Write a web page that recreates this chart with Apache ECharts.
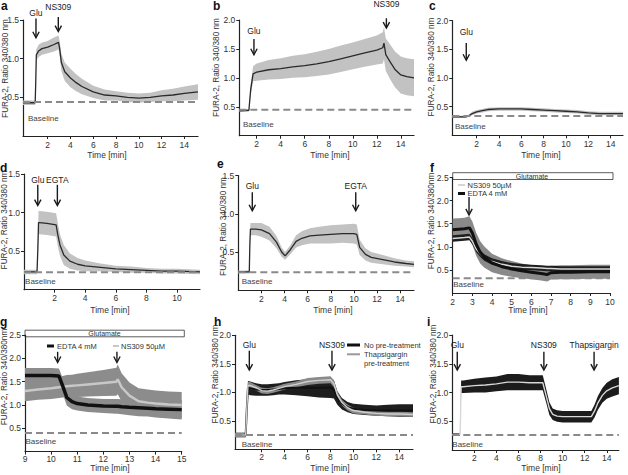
<!DOCTYPE html>
<html><head><meta charset="utf-8">
<script src="https://cdn.jsdelivr.net/npm/echarts@6/dist/echarts.min.js"></script>
<style>html,body{margin:0;padding:0;background:#fff}#c{width:628px;height:475px}</style>
</head><body><div id="c"></div>
<script>
// ---------------- DATA ----------------
// a
const aT    = [-0.17, 0.9, 0.95, 1.0, 1.2, 1.5, 2.0, 2.5, 2.95, 3.05, 3.2, 3.5, 4.0, 4.5, 5.0, 6.0, 7.0, 8.0, 9.0, 10.0, 11.0, 12.0, 13.0, 14.0, 15.2];
const aMean = [0.43, 0.43, 0.7, 1.05, 1.1, 1.13, 1.15, 1.18, 1.21, 1.13, 0.95, 0.83, 0.75, 0.69, 0.64, 0.57, 0.53, 0.52, 0.5, 0.49, 0.5, 0.52, 0.53, 0.55, 0.57];
const aErr  = [0.03, 0.03, 0.03, 0.07, 0.08, 0.08, 0.08, 0.09, 0.09, 0.1, 0.11, 0.12, 0.12, 0.11, 0.1, 0.08, 0.07, 0.06, 0.06, 0.06, 0.06, 0.07, 0.08, 0.09, 0.1];
// b
const bT    = [0.55, 1.35, 1.5, 1.7, 2.0, 3, 4, 5, 6, 7, 8, 9, 10, 11, 12, 12.5, 12.6, 12.75, 13.1, 13.5, 14, 14.5, 15.1];
const bMean = [0.43, 0.44, 0.8, 1.07, 1.1, 1.14, 1.16, 1.19, 1.21, 1.24, 1.28, 1.33, 1.38, 1.43, 1.48, 1.52, 1.6, 1.4, 1.28, 1.15, 1.05, 1.02, 1.0];
const bErr  = [0.02, 0.02, 0.1, 0.13, 0.15, 0.17, 0.18, 0.19, 0.2, 0.21, 0.22, 0.23, 0.23, 0.24, 0.25, 0.27, 0.28, 0.28, 0.3, 0.31, 0.32, 0.32, 0.32];
// c
const cT    = [-0.18, 0.5, 1.0, 1.3, 1.6, 2.0, 2.5, 3.0, 4.0, 5.0, 6.0, 7.0, 8.0, 9.0, 10.0, 11.0, 12.0, 13.0, 14.0, 15.1];
const cMean = [0.32, 0.32, 0.32, 0.34, 0.38, 0.41, 0.43, 0.45, 0.46, 0.46, 0.46, 0.45, 0.44, 0.43, 0.42, 0.41, 0.39, 0.38, 0.38, 0.38];
const cErr  = [0.02, 0.02, 0.02, 0.02, 0.03, 0.03, 0.03, 0.03, 0.03, 0.03, 0.03, 0.03, 0.03, 0.03, 0.03, 0.03, 0.03, 0.03, 0.03, 0.03];
// d
const dT    = [0, 0.85, 0.9, 0.95, 1.0, 1.5, 2.1, 2.2, 2.35, 2.6, 3.0, 3.5, 4.0, 5.0, 6.0, 7.0, 8.0, 9.0, 10.0, 11.5];
const dMean = [0.23, 0.23, 0.5, 0.87, 0.87, 0.86, 0.84, 0.72, 0.58, 0.45, 0.37, 0.33, 0.31, 0.29, 0.27, 0.26, 0.25, 0.24, 0.24, 0.23];
const dErr  = [0.03, 0.03, 0.08, 0.15, 0.15, 0.15, 0.15, 0.15, 0.14, 0.13, 0.1, 0.08, 0.07, 0.05, 0.04, 0.04, 0.03, 0.03, 0.03, 0.03];
// e
const eT    = [0, 0.95, 1.0, 1.05, 1.5, 2.0, 2.7, 3.3, 3.75, 4.05, 4.5, 5.0, 5.5, 6.2, 7.0, 8.0, 9.0, 10.0, 10.25, 10.5, 11.0, 11.5, 12.5, 13.5, 14.5, 15.2];
const eMean = [0.24, 0.24, 0.6, 0.8, 0.8, 0.79, 0.74, 0.63, 0.5, 0.45, 0.53, 0.64, 0.68, 0.71, 0.72, 0.73, 0.74, 0.74, 0.73, 0.56, 0.47, 0.43, 0.4, 0.37, 0.35, 0.34];
const eErr  = [0.02, 0.02, 0.05, 0.08, 0.08, 0.09, 0.09, 0.08, 0.06, 0.05, 0.06, 0.08, 0.09, 0.1, 0.11, 0.12, 0.12, 0.13, 0.13, 0.1, 0.08, 0.07, 0.06, 0.05, 0.04, 0.04];
// f
const fT        = [2.0, 2.3, 2.6, 2.85, 3.0, 3.2, 3.4, 3.6, 4.0, 4.5, 5.0, 5.5, 6.0, 6.5, 6.8, 7.0, 7.5, 8.0, 9.0, 10.0];
const fEdtaMean = [1.37, 1.38, 1.39, 1.41, 1.3, 1.05, 0.88, 0.78, 0.65, 0.57, 0.52, 0.48, 0.45, 0.42, 0.4, 0.44, 0.45, 0.45, 0.46, 0.46];
const fEdtaErr  = [0.24, 0.24, 0.24, 0.25, 0.25, 0.25, 0.24, 0.23, 0.2, 0.18, 0.17, 0.16, 0.15, 0.15, 0.15, 0.15, 0.15, 0.15, 0.15, 0.15];
const fNsMean   = [1.18, 1.19, 1.2, 1.21, 1.12, 0.95, 0.85, 0.77, 0.68, 0.62, 0.58, 0.56, 0.55, 0.54, 0.53, 0.53, 0.52, 0.52, 0.52, 0.52];
const fNsErr    = [0.07, 0.07, 0.07, 0.07, 0.07, 0.07, 0.07, 0.07, 0.07, 0.07, 0.07, 0.07, 0.06, 0.06, 0.06, 0.06, 0.06, 0.06, 0.06, 0.06];
// g
const gT        = [9.0, 9.5, 10.0, 10.3, 10.45, 10.6, 10.8, 11.0, 11.4, 12.0, 12.5, 12.55, 12.7, 13.0, 13.35, 13.7, 14.0, 14.5, 15.0];
const gEdtaMean = [1.63, 1.63, 1.63, 1.62, 1.4, 1.16, 1.07, 1.03, 1.0, 0.98, 0.97, 0.97, 0.96, 0.95, 0.94, 0.93, 0.92, 0.91, 0.9];
const gEdtaErr  = [0.16, 0.16, 0.16, 0.16, 0.17, 0.17, 0.16, 0.15, 0.15, 0.15, 0.16, 0.16, 0.16, 0.17, 0.18, 0.18, 0.19, 0.2, 0.21];
const gNsMean   = [1.3, 1.33, 1.36, 1.38, 1.39, 1.4, 1.41, 1.42, 1.44, 1.47, 1.5, 1.55, 1.38, 1.2, 1.08, 1.05, 1.03, 1.01, 1.0];
const gNsErr    = [0.22, 0.22, 0.23, 0.23, 0.23, 0.24, 0.24, 0.25, 0.26, 0.28, 0.3, 0.32, 0.3, 0.28, 0.28, 0.28, 0.28, 0.28, 0.28];
// h
const hT         = [-0.33, 0.6, 0.7, 0.8, 1.0, 1.5, 2.0, 2.5, 3.0, 3.5, 4.0, 5.0, 6.0, 7.0, 8.0, 8.3, 8.6, 9.0, 9.5, 10.0, 11.0, 12.0, 13.0, 14.0, 15.2];
const hNoMean    = [0.25, 0.25, 0.7, 1.08, 1.07, 1.05, 1.04, 1.04, 1.05, 1.06, 1.07, 1.08, 1.08, 1.08, 1.08, 1.05, 0.9, 0.8, 0.74, 0.71, 0.69, 0.68, 0.68, 0.68, 0.68];
const hNoErr     = [0.04, 0.04, 0.08, 0.12, 0.12, 0.11, 0.1, 0.1, 0.1, 0.1, 0.11, 0.13, 0.15, 0.17, 0.18, 0.16, 0.12, 0.1, 0.09, 0.09, 0.09, 0.09, 0.1, 0.11, 0.11];
const hThapMean  = [0.25, 0.25, 0.7, 1.12, 1.12, 1.08, 1.03, 1.02, 1.04, 1.07, 1.1, 1.14, 1.19, 1.21, 1.22, 1.15, 0.95, 0.82, 0.73, 0.68, 0.65, 0.63, 0.62, 0.62, 0.61];
const hThapErr   = [0.04, 0.04, 0.05, 0.06, 0.06, 0.05, 0.05, 0.05, 0.05, 0.05, 0.05, 0.05, 0.06, 0.06, 0.06, 0.06, 0.06, 0.05, 0.05, 0.05, 0.04, 0.04, 0.04, 0.04, 0.04];
// i
const iT    = [0, 0.7, 0.75, 0.8, 1.0, 2.0, 3.0, 4.0, 5.0, 6.0, 7.0, 8.2, 8.5, 8.8, 9.1, 9.5, 10.0, 11.0, 12.0, 12.6, 12.9, 13.2, 13.6, 14.0, 14.5, 15.1];
const iMean = [0.27, 0.27, 0.6, 1.1, 1.1, 1.12, 1.13, 1.15, 1.18, 1.18, 1.17, 1.17, 0.95, 0.72, 0.62, 0.59, 0.58, 0.58, 0.58, 0.58, 0.68, 0.82, 0.95, 1.03, 1.08, 1.12];
const iErr  = [0.02, 0.02, 0.06, 0.11, 0.11, 0.12, 0.13, 0.13, 0.14, 0.14, 0.13, 0.13, 0.12, 0.11, 0.1, 0.1, 0.1, 0.1, 0.1, 0.1, 0.11, 0.12, 0.13, 0.14, 0.15, 0.15];

// baselines (dashed) per panel
const baselines = [0.44, 0.45, 0.335, 0.225, 0.235, 0.32, 0.4, 0.25, 0.26];

// tick labels
const xTicks15 = [2, 4, 6, 8, 10, 12, 14];
const xTicksD  = [2, 4, 6, 8, 10];
const xTicksF  = [2, 3, 4, 5, 6, 7, 8, 9, 10];
const xTicksG  = [9, 10, 11, 12, 13, 14, 15];
const yTicks15 = [0.5, 1.0, 1.5];
const yTicks20 = [0.5, 1.0, 1.5, 2.0];
const yTicks25 = [0.5, 1.0, 1.5, 2.0, 2.5];

// annotations: label, x, text-bottom y, arrow top y, arrow tip y
const aArrows = [['Glu', 0.97, 1.53, 1.52, 1.27], ['NS309', 2.93, 1.61, 1.54, 1.35]];
const bArrows = [['Glu', 1.77, 1.74, 1.67, 1.40], ['NS309', 12.8, 2.2, 2.03, 1.86]];
const cArrows = [['Glu', 1.07, 1.73, 1.61, 1.31]];
const dArrows = [['Glu', 0.9, 1.37, 1.36, 1.09], ['EGTA', 2.18, 1.37, 1.36, 1.09]];
const eArrows = [['Glu', 1.21, 1.31, 1.28, 1.04], ['EGTA', 10.16, 1.31, 1.28, 1.04]];
const fArrows = [['', 2.83, 2.1, 2.08, 1.69]];
const gArrows = [['', 10.25, 2.15, 2.14, 1.91], ['', 12.52, 2.15, 2.14, 1.91]];
const hArrows = [['Glu', 0.92, 1.75, 1.73, 1.39], ['NS309', 8.13, 1.75, 1.73, 1.39]];
const iArrows = [['Glu', 0.45, 1.75, 1.71, 1.39], ['NS309', 8.3, 1.75, 1.71, 1.39], ['Thapsigargin', 12.85, 1.75, 1.71, 1.39]];
// "Baseline" label anchor (x, y)
const baseLabelPos = [[0.27, 0.23], [0.86, 0.2], [0.06, 0.15], [0.07, 0.11], [0.29, 0.11], [2.03, 0.19], [9.02, 0.21], [0.25, 0.09], [0.0, 0.1]];

// ---------------- LAYOUT ----------------
const FONT = '"Liberation Sans", Arial, sans-serif';
const L = [
  {left: 23,    top: 20,    width: 175,   height: 116,   xmin: -0.17, xmax: 15.2, ymax: 1.5, xt: xTicks15, yt: yTicks15, m: 4},
  {left: 239.3, top: 20,    width: 174.7, height: 115.7, xmin: 0.55,  xmax: 15.1, ymax: 2.0, xt: xTicks15, yt: yTicks20, m: 4},
  {left: 452.3, top: 20.7,  width: 170.7, height: 114.6, xmin: -0.18, xmax: 15.1, ymax: 2.0, xt: xTicks15, yt: yTicks20, m: 4},
  {left: 24,    top: 174,   width: 176,   height: 115.7, xmin: 0,     xmax: 11.5, ymax: 1.5, xt: xTicksD,  yt: yTicks15, m: 4},
  {left: 238.3, top: 175.5, width: 175.7, height: 114.8, xmin: 0,     xmax: 15.2, ymax: 1.5, xt: xTicks15, yt: yTicks15, m: 4},
  {left: 452.7, top: 177.5, width: 157.3, height: 115.5, xmin: 2,     xmax: 10,   ymax: 2.5, xt: xTicksF,  yt: yTicks25, m: 4},
  {left: 25,    top: 335,   width: 156.7, height: 116.6, xmin: 9,     xmax: 15,   ymax: 2.5, xt: xTicksG,  yt: yTicks25, m: 3},
  {left: 235,   top: 335.3, width: 178,   height: 114,   xmin: -0.33, xmax: 15.2, ymax: 2.0, xt: xTicks15, yt: yTicks20, m: 3},
  {left: 452.3, top: 335,   width: 166.6, height: 115,   xmin: 0,     xmax: 15.1, ymax: 2.0, xt: xTicks15, yt: yTicks20, m: 3}
];

const grids = [], xAxes = [], yAxes = [], series = [];
L.forEach((g, i) => {
  grids.push({left: g.left, top: g.top, width: g.width, height: g.height, containLabel: false, outerBoundsMode: 'none'});
  const axLine = {show: true, onZero: false, lineStyle: {color: '#222', width: 1.2}};
  xAxes.push({gridIndex: i, type: 'value', min: g.xmin, max: g.xmax, axisLine: axLine,
    axisTick: {show: true, customValues: g.xt, length: 3, lineStyle: {color: '#222'}},
    axisLabel: {customValues: g.xt, fontSize: 8.5, color: '#333', margin: g.m, fontFamily: FONT, formatter: v => String(v)},
    splitLine: {show: false}});
  yAxes.push({gridIndex: i, type: 'value', min: 0, max: g.ymax, axisLine: axLine,
    axisTick: {show: true, customValues: g.yt, length: 3, lineStyle: {color: '#222'}},
    axisLabel: {customValues: g.yt, fontSize: 8.5, color: '#333', margin: 4, fontFamily: FONT, formatter: v => v.toFixed(1)},
    splitLine: {show: false}});
});

function band(gi, xs, mean, err, color) {
  return {type: 'custom', xAxisIndex: gi, yAxisIndex: gi, silent: true, clip: false,
    data: xs.map((x, k) => [x, mean[k] - err[k], mean[k] + err[k]]),
    encode: {x: 0, y: [1, 2]},
    renderItem: function (params, api) {
      if (params.dataIndexInside !== 0) return null;
      const n = params.dataInsideLength || xs.length;
      const up = [], lo = [];
      for (let j = 0; j < n; j++) {
        const x = api.value(0, j);
        up.push(api.coord([x, api.value(2, j)]));
        lo.push(api.coord([x, api.value(1, j)]));
      }
      return {type: 'polygon', shape: {points: up.concat(lo.reverse())}, style: {fill: color}};
    }};
}
function line(gi, xs, ys, color, width) {
  return {type: 'line', xAxisIndex: gi, yAxisIndex: gi, silent: true, symbol: 'none', showSymbol: false,
    data: xs.map((x, k) => [x, ys[k]]), lineStyle: {color: color, width: width}};
}
function dashed(gi, v) {
  return {type: 'line', xAxisIndex: gi, yAxisIndex: gi, silent: true, symbol: 'none',
    data: [[L[gi].xmin, v], [L[gi].xmax, v]], lineStyle: {color: '#8a8a8a', width: 2, type: [7, 4]}};
}
function arrows(gi, list) {
  return {type: 'custom', xAxisIndex: gi, yAxisIndex: gi, silent: true, clip: false, z: 5,
    data: list.map(a => [a[1], a[2], a[3], a[4]]),
    renderItem: function (params, api) {
      const lab = list[params.dataIndex][0];
      const x = api.value(0);
      const pt = api.coord([x, api.value(1)]);
      const p0 = api.coord([x, api.value(2)]);
      const p1 = api.coord([x, api.value(3)]);
      const ch = [
        {type: 'line', shape: {x1: p0[0], y1: p0[1], x2: p1[0], y2: p1[1] - 0.5}, style: {stroke: '#1a1a1a', lineWidth: 1.4}},
        {type: 'polyline', shape: {points: [[p1[0] - 3.2, p1[1] - 6], [p1[0], p1[1]], [p1[0] + 3.2, p1[1] - 6]]}, style: {stroke: '#1a1a1a', lineWidth: 1.4, fill: null}}
      ];
      if (lab) ch.push({type: 'text', style: {text: lab, x: pt[0], y: pt[1], align: 'center', verticalAlign: 'bottom', font: '8.5px ' + FONT, fill: '#222'}});
      return {type: 'group', children: ch};
    }};
}
function baseLabel(gi) {
  const p = baseLabelPos[gi];
  return {type: 'custom', xAxisIndex: gi, yAxisIndex: gi, silent: true, clip: false, z: 5,
    data: [p],
    renderItem: function (params, api) {
      const c = api.coord([api.value(0), api.value(1)]);
      return {type: 'text', style: {text: 'Baseline', x: c[0], y: c[1], align: 'left', verticalAlign: 'middle', font: '8px ' + FONT, fill: '#444'}};
    }};
}

const LIGHT = '#c2c2c2', MEAN = '#2a2a2a';
// a-e
[[aT, aMean, aErr], [bT, bMean, bErr], [cT, cMean, cErr], [dT, dMean, dErr], [eT, eMean, eErr]].forEach((d, gi) => {
  series.push(band(gi, d[0], d[1], d[2], LIGHT));
  series.push(line(gi, d[0], d[1], MEAN, 1.3));
});
// f
series.push(band(5, fT, fEdtaMean, fEdtaErr, '#8a8a8a'));
series.push(band(5, fT, fNsMean, fNsErr, '#1e1e1e'));
series.push(line(5, fT, fNsMean, '#d8d8d8', 1.5));
series.push(line(5, fT, fEdtaMean, '#111', 3));
// g
series.push(band(6, gT, gEdtaMean, gEdtaErr, '#8c8c8c'));
series.push(band(6, gT, gNsMean, gNsErr, '#8c8c8c'));
series.push(line(6, gT, gNsMean, '#c8c8c8', 2.5));
series.push(line(6, gT, gEdtaMean, '#111', 3.5));
// h
series.push(band(7, hT, hNoMean, hNoErr, '#1e1e1e'));
series.push(band(7, hT, hThapMean, hThapErr, '#8a8a8a'));
series.push(line(7, hT, hNoMean, '#111', 2));
series.push(line(7, hT, hThapMean, '#cfcfcf', 1.4));
// i
series.push(band(8, iT, iMean, iErr, '#1c1c1c'));
series.push(line(8, iT, iMean, '#d8d8d8', 1.4));

baselines.forEach((v, gi) => series.push(dashed(gi, v)));
[aArrows, bArrows, cArrows, dArrows, eArrows, fArrows, gArrows, hArrows, iArrows].forEach((a, gi) => series.push(arrows(gi, a)));
L.forEach((g, gi) => series.push(baseLabel(gi)));

// ---------------- TEXT / DECORATION ----------------
const letters = [['a', 1, 0], ['b', 213, 0], ['c', 429, 0], ['d', 0, 162], ['e', 217, 158], ['f', 430, 162], ['g', 0, 316], ['h', 214, 316], ['i', 427, 316]];
const yTitles = [[5, 68.5, 'FURA-2, Ratio 340/380 nm'], [216, 67.5, 'FURA-2, Ratio 340/380 nm'], [431.3, 67, 'FURA-2, Ratio 340/380 nm'],
  [4.5, 220, 'FURA-2, Ratio 340/380 nm'], [223.3, 226.5, 'FURA-2, Ratio 340/380 nm'], [431.5, 221, 'FURA-2, Ratio 340/380nm'],
  [4.5, 377, 'FURA-2, Ratio 340/380nm'], [215, 374, 'FURA-2, Ratio 340/380 nm'], [433, 374, 'FURA-2, Ratio 340/380 nm']];
const xTitles = [[107, 154.5], [330, 154.5], [541, 154.5], [110, 310], [333, 310], [528, 310], [110, 468], [330, 468], [541, 468]];

const graphic = [];
letters.forEach(l => graphic.push({type: 'text', x: l[1], y: l[2], style: {text: l[0], font: 'bold 12px ' + FONT, fill: '#111', verticalAlign: 'top', align: 'left'}}));
yTitles.forEach(t => graphic.push({type: 'text', x: t[0], y: t[1], rotation: Math.PI / 2, style: {text: t[2], font: '8.2px ' + FONT, fill: '#333', align: 'center', verticalAlign: 'middle'}}));
xTitles.forEach(t => graphic.push({type: 'text', x: t[0], y: t[1], style: {text: 'Time [min]', font: '8.5px ' + FONT, fill: '#333', align: 'center', verticalAlign: 'middle'}}));
// Glutamate boxes
[[452.7, 172.7, 160.3, 6.8, 532], [25, 330.2, 159.3, 6.6, 104.5]].forEach(b => {
  graphic.push({type: 'rect', shape: {x: b[0], y: b[1], width: b[2], height: b[3]}, style: {fill: '#fff', stroke: '#333', lineWidth: 0.8}});
  graphic.push({type: 'text', x: b[4], y: b[1] + b[3] / 2 + 0.3, style: {text: 'Glutamate', font: '7px ' + FONT, fill: '#333', align: 'center', verticalAlign: 'middle'}});
});
// legends
function legItem(x1, x2, y, color, w, text, tx) {
  graphic.push({type: 'line', shape: {x1: x1, y1: y, x2: x2, y2: y}, style: {stroke: color, lineWidth: w}});
  graphic.push({type: 'text', x: tx, y: y, style: {text: text, font: '7.5px ' + FONT, fill: '#333', align: 'left', verticalAlign: 'middle'}});
}
legItem(458, 465, 185, '#c8c8c8', 1.5, 'NS309 50µM', 467.5);
legItem(458, 465, 193.5, '#111', 3, 'EDTA 4 mM', 467.5);
legItem(47, 54, 346, '#111', 3, 'EDTA 4 mM', 57);
legItem(113, 119, 346, '#c8c8c8', 2, 'NS309 50µM', 121);
legItem(347, 360, 345, '#111', 3, 'No pre-treatment', 364);
legItem(347, 360, 354.3, '#999', 2, 'Thapsigargin', 364);
graphic.push({type: 'text', x: 364, y: 363.3, style: {text: 'pre-treatment', font: '7.5px ' + FONT, fill: '#333', align: 'left', verticalAlign: 'middle'}});

const chart = echarts.init(document.getElementById('c'), null, {renderer: 'svg', width: 628, height: 475});
chart.setOption({
  animation: false,
  backgroundColor: '#fff',
  textStyle: {fontFamily: FONT},
  grid: grids, xAxis: xAxes, yAxis: yAxes, series: series, graphic: graphic
});
</script></body></html>
